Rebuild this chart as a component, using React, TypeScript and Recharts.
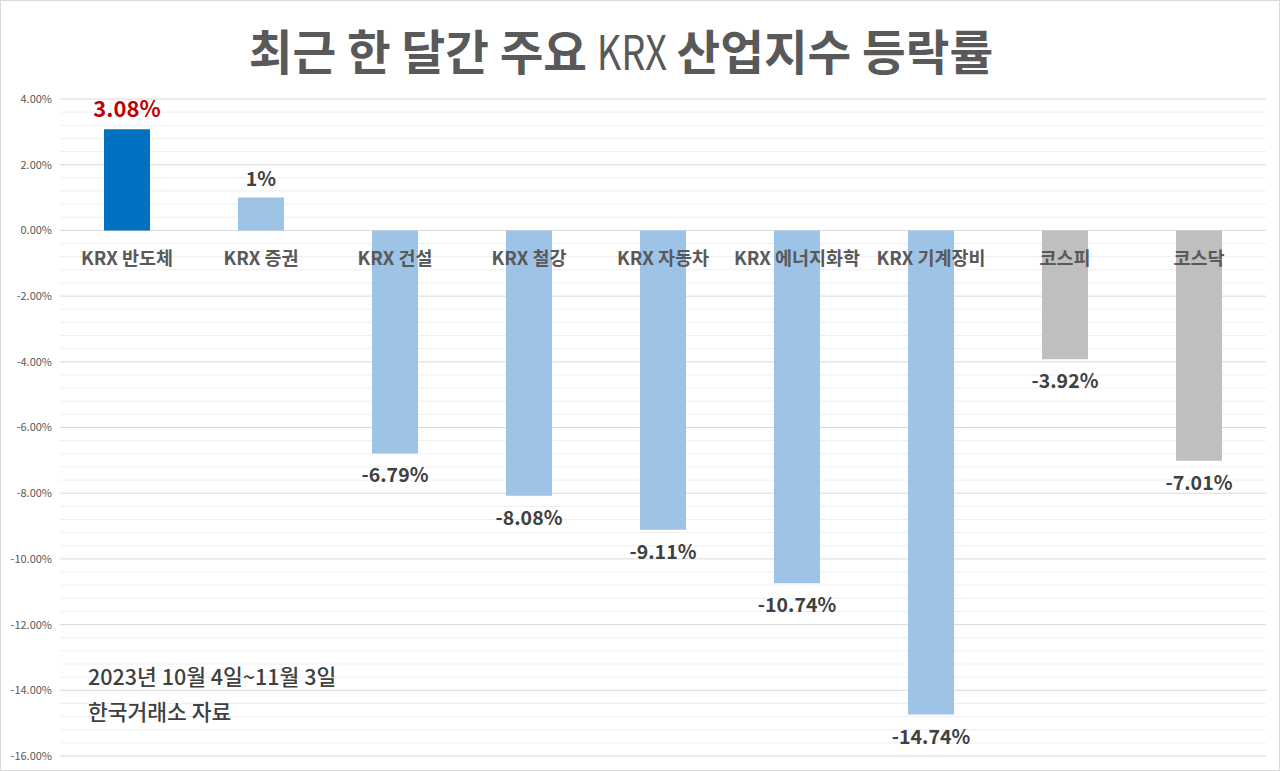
import React from "react";
import {
  BarChart,
  Bar,
  XAxis,
  YAxis,
  CartesianGrid,
  LabelList,
  Cell,
} from "recharts";

const categories = [
  "KRX 반도체",
  "KRX 증권",
  "KRX 건설",
  "KRX 철강",
  "KRX 자동차",
  "KRX 에너지화학",
  "KRX 기계장비",
  "코스피",
  "코스닥",
];
const changes = [3.08, 1, -6.79, -8.08, -9.11, -10.74, -14.74, -3.92, -7.01];
const valueLabels = ["3.08%", "1%", "-6.79%", "-8.08%", "-9.11%", "-10.74%", "-14.74%", "-3.92%", "-7.01%"];
const barColors = ["#0070C0", "#9DC3E6", "#9DC3E6", "#9DC3E6", "#9DC3E6", "#9DC3E6", "#9DC3E6", "#BFBFBF", "#BFBFBF"];

const Y_MIN = -16;
const Y_MAX = 4;
const majorTicks = [4, 2, 0, -2, -4, -6, -8, -10, -12, -14, -16];
const minorTicks: number[] = [];
for (let i = 0; i < majorTicks.length - 1; i++) {
  for (let k = 1; k < 5; k++) minorTicks.push(Math.round((majorTicks[i] - k * 0.4) * 10) / 10);
}

const data = categories.map((name, i) => ({
  name,
  value: changes[i],
  label: valueLabels[i],
}));

const FONT = "'Noto Sans CJK KR', 'Noto Sans', sans-serif";

// minor grid lines go through the y scale when it is there
const minorCoords = (props: any) => {
  const scale = props?.yAxis?.scale;
  if (typeof scale === "function") return minorTicks.map((t) => scale(t));
  const { offset } = props;
  return minorTicks.map((t) => offset.top + ((Y_MAX - t) / (Y_MAX - Y_MIN)) * offset.height);
};

const ValueLabel = (props: any) => {
  const { x, y, width, height, index } = props;
  const v = changes[index];
  const top = Math.min(y, y + height);
  const bottom = Math.max(y, y + height);
  const first = index === 0;
  return (
    <text
      x={x + width / 2}
      y={v >= 0 ? top - 12 : bottom + 29}
      textAnchor="middle"
      fontFamily={FONT}
      fontWeight={700}
      fontSize={first ? 22 : 19.5}
      fill={first ? "#C00000" : "#404040"}
    >
      {valueLabels[index]}
    </text>
  );
};

const CategoryLabel = (props: any) => {
  const { x, y, width, height, index } = props;
  const v = changes[index];
  const zero = v >= 0 ? Math.max(y, y + height) : Math.min(y, y + height);
  return (
    <text
      x={x + width / 2}
      y={zero + 35}
      textAnchor="middle"
      fontFamily={FONT}
      fontWeight={700}
      fontSize={18.5}
      fill="#595959"
    >
      {categories[index]}
    </text>
  );
};

export default function App() {
  return (
    <div
      style={{
        position: "absolute",
        left: 0,
        top: 0,
        width: 1280,
        height: 771,
        boxSizing: "border-box",
        border: "1px solid #D9D9D9",
        background: "#fff",
        fontFamily: FONT,
      }}
    >
      <BarChart
        width={1278}
        height={769}
        data={data}
        margin={{ top: 98, right: 13, bottom: 14, left: 0 }}
      >
        <CartesianGrid
          vertical={false}
          stroke="#EFEFEF"
          horizontalCoordinatesGenerator={minorCoords}
        />
        <CartesianGrid vertical={false} stroke="#D9D9D9" />
        <XAxis dataKey="name" hide />
        <YAxis
          width={59}
          domain={[Y_MIN, Y_MAX]}
          ticks={majorTicks}
          axisLine={false}
          tickLine={false}
          interval={0}
          tickFormatter={(v: number) => v.toFixed(2) + "%"}
          tick={{ fontSize: 11, fill: "#595959", fontFamily: FONT }}
        />
        <Bar dataKey="value" barSize={46} isAnimationActive={false}>
          {data.map((d, i) => (
            <Cell key={d.name} fill={barColors[i]} />
          ))}
          <LabelList dataKey="label" content={ValueLabel} />
          <LabelList dataKey="name" content={CategoryLabel} />
        </Bar>
      </BarChart>
      <div
        style={{
          position: "absolute",
          left: 0,
          width: 1240,
          top: 19,
          textAlign: "center",
          fontSize: 47.5,
          fontWeight: 700,
          color: "#595959",
          lineHeight: "60px",
        }}
      >
        최근 한 달간 주요{" "}
        <span
          style={{
            fontWeight: 400,
            display: "inline-block",
            transform: "scaleX(0.8)",
            margin: "0 -10px",
          }}
        >
          KRX
        </span>{" "}
        산업지수 등락률
      </div>
      <div
        style={{
          position: "absolute",
          left: 87,
          top: 657,
          fontSize: 21.5,
          fontWeight: 500,
          color: "#404040",
          lineHeight: "35px",
        }}
      >
        <div>2023년 10월 4일~11월 3일</div>
        <div>한국거래소 자료</div>
      </div>
    </div>
  );
}
